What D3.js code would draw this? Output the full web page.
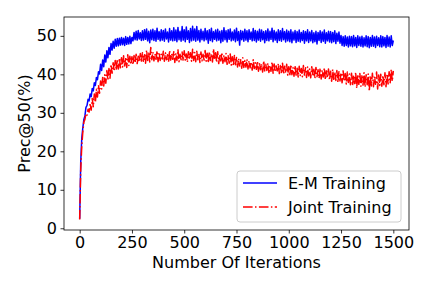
<!DOCTYPE html>
<html>
<head>
<meta charset="utf-8">
<script src="https://cdn.jsdelivr.net/npm/d3@7"></script>
<style>
  body { margin: 0; background: #fff; }
  text { font-family: "DejaVu Sans", sans-serif; }
</style>
</head>
<body>
<svg id="chart" width="432" height="288"></svg>
<script>
// one value every 5 iterations
var step = 5;

var emTraining = [
    2.5, 17.2, 23.4, 26.1, 28.3, 29.2, 31.4, 31.9, 33.5, 33.1,
    34.9, 34.2, 36.3, 35.7, 37.8, 37.1, 39.2, 38.6, 40.7, 40.1,
    42.6, 41.0, 43.7, 42.0, 45.0, 43.2, 46.1, 44.3, 47.0, 45.2,
    48.0, 46.3, 48.6, 46.8, 49.1, 47.3, 49.3, 47.4, 49.4, 47.6,
    49.6, 47.7, 49.4, 47.5, 49.8, 47.8, 49.6, 47.9, 49.9, 48.0,
    49.6, 48.7, 50.9, 49.0, 51.2, 48.9, 51.4, 49.2, 50.8, 48.8,
    51.3, 48.9, 51.6, 49.1, 51.8, 48.7, 51.2, 48.2, 51.5, 49.0,
    51.7, 48.8, 51.3, 48.6, 52.0, 49.1, 51.1, 48.7, 51.6, 48.9,
    51.4, 48.6, 51.8, 49.2, 51.0, 48.4, 51.9, 48.9, 51.3, 48.7,
    52.1, 48.8, 51.5, 48.5, 52.2, 49.0, 51.2, 48.6, 52.4, 48.9,
    51.6, 48.5, 52.3, 49.1, 51.3, 48.3, 51.9, 48.7, 52.5, 48.9,
    51.8, 48.6, 52.4, 48.9, 51.4, 48.4, 51.7, 49.0, 51.2, 48.7,
    51.9, 49.0, 51.3, 48.1, 51.6, 48.8, 52.0, 48.5, 51.1, 49.1,
    51.5, 48.7, 51.7, 48.9, 51.2, 48.2, 51.4, 48.6, 52.1, 49.0,
    51.3, 48.4, 51.6, 49.1, 51.8, 48.7, 51.0, 48.9, 51.5, 48.5,
    52.0, 48.8, 51.1, 47.6, 51.4, 49.0, 51.2, 48.6, 51.7, 48.9,
    51.3, 48.5, 51.6, 49.1, 51.0, 48.7, 51.9, 48.8, 51.4, 48.4,
    51.2, 48.9, 51.7, 48.6, 51.5, 49.0, 51.1, 48.2, 51.3, 48.8,
    51.8, 48.7, 51.2, 49.1, 52.0, 48.5, 51.4, 48.9, 51.0, 48.3,
    51.6, 48.8, 51.3, 48.6, 51.9, 49.0, 51.1, 48.4, 51.5, 48.7,
    51.2, 48.5, 51.6, 48.2, 51.0, 48.9, 51.4, 48.3, 51.1, 48.6,
    51.5, 48.4, 50.9, 48.8, 51.3, 48.1, 51.1, 48.7, 51.6, 48.3,
    51.0, 48.7, 51.4, 48.2, 50.8, 48.5, 51.2, 47.9, 50.9, 48.8,
    51.3, 48.3, 51.0, 48.6, 51.5, 48.1, 50.8, 48.7, 51.2, 48.4,
    51.1, 48.2, 50.9, 48.5, 51.3, 48.0, 50.7, 48.6, 51.0, 48.1,
    50.1, 47.5, 49.8, 47.3, 50.0, 47.5, 49.7, 47.1, 49.9, 47.4,
    49.8, 47.2, 50.1, 47.4, 49.6, 47.0, 50.0, 47.5, 49.7, 47.3,
    49.9, 47.1, 49.5, 47.4, 50.0, 47.2, 49.8, 46.9, 49.6, 47.3,
    50.1, 47.3, 49.7, 47.0, 49.9, 47.5, 49.5, 47.2, 50.0, 47.1,
    49.8, 47.4, 49.6, 47.0, 50.1, 47.3, 49.7, 47.1, 50.0, 47.5,
    48.8
];

var jointTraining = [
    2.3, 15.2, 21.4, 25.0, 27.6, 28.3, 29.8, 29.4, 30.9, 30.2,
    32.5, 30.7, 33.7, 31.6, 34.9, 32.7, 36.1, 34.1, 37.2, 35.1,
    38.3, 36.2, 39.2, 37.0, 39.9, 37.7, 41.0, 38.5, 41.5, 39.0,
    42.6, 40.3, 43.0, 40.8, 43.6, 41.1, 43.9, 41.4, 44.2, 41.7,
    44.3, 41.9, 44.8, 42.2, 44.5, 41.8, 45.1, 42.3, 44.7, 42.6,
    44.6, 42.5, 44.9, 43.0, 45.2, 42.8, 44.7, 43.3, 45.4, 43.1,
    45.6, 43.4, 45.1, 42.9, 46.3, 43.6, 45.5, 43.2, 47.0, 43.8,
    45.8, 43.5, 45.3, 43.9, 46.1, 43.3, 45.7, 43.6, 45.2, 44.0,
    46.0, 43.4, 45.6, 43.8, 45.1, 43.2, 46.2, 43.7, 45.4, 43.9,
    45.9, 43.1, 45.5, 43.6, 46.4, 43.3, 45.2, 43.8, 45.8, 43.5,
    46.1, 43.7, 45.3, 43.2, 45.9, 43.9, 45.6, 43.4, 46.5, 43.6,
    45.7, 43.3, 46.0, 43.8, 45.4, 43.1, 45.8, 43.5, 45.2, 43.7,
    46.2, 43.4, 45.5, 43.0, 45.9, 43.6, 45.3, 43.2, 46.6, 43.8,
    45.6, 43.1, 45.9, 42.8, 45.2, 43.5, 45.7, 42.9, 45.0, 43.3,
    45.4, 42.6, 44.8, 42.9, 45.3, 42.4, 44.6, 42.2, 44.9, 42.5,
    44.4, 41.9, 44.1, 42.2, 43.8, 41.6, 44.3, 41.8, 43.6, 41.9,
    43.9, 41.4, 43.5, 41.7, 43.2, 41.1, 43.8, 41.5, 43.0, 41.3,
    43.4, 40.8, 43.1, 41.2, 42.7, 40.6, 43.5, 40.9, 42.6, 41.0,
    42.9, 40.5, 42.4, 40.8, 43.2, 40.3, 42.7, 40.6, 42.2, 40.9,
    42.8, 40.2, 42.3, 40.5, 42.9, 40.1, 42.1, 40.4, 42.6, 39.8,
    42.0, 39.6, 42.5, 39.9, 41.8, 39.5, 42.2, 39.8, 41.6, 39.3,
    42.1, 39.7, 41.5, 39.4, 42.3, 39.8, 41.7, 39.2, 41.9, 39.6,
    41.4, 39.1, 42.0, 39.5, 41.3, 38.9, 41.8, 39.4, 41.2, 39.0,
    41.6, 38.8, 41.1, 39.3, 41.7, 38.6, 40.9, 39.1, 41.4, 38.5,
    40.8, 38.2, 41.3, 38.7, 40.6, 38.4, 41.0, 37.9, 40.7, 38.3,
    40.4, 37.8, 40.9, 38.2, 40.2, 37.5, 40.6, 37.9, 40.1, 37.3,
    40.3, 37.1, 39.8, 37.6, 40.5, 36.4, 39.9, 37.4, 40.2, 36.9,
    39.6, 37.2, 40.4, 36.7, 39.9, 37.3, 40.1, 35.6, 39.7, 37.0,
    40.3, 36.8, 39.5, 37.4, 40.6, 36.2, 39.8, 37.1, 40.0, 36.9,
    39.7, 37.3, 40.4, 36.8, 40.1, 37.5, 40.7, 37.8, 41.3, 38.2,
    40.9
];

var xTicks = [0, 250, 500, 750, 1000, 1250, 1500];
var yTicks = [0, 10, 20, 30, 40, 50];
var seriesNames = ["E-M Training", "Joint Training"];
var seriesColors = ["#0000ff", "#ff0000"];

var svg = d3.select("#chart"),
    plotLeft = 64, plotRight = 409, plotTop = 17, plotBottom = 230;

var x = d3.scaleLinear().domain([-75, 1575]).range([plotLeft, plotRight]);
var y = d3.scaleLinear().domain([-0.45, 54.9]).range([plotBottom, plotTop]);

var line = d3.line()
    .x(function (d, i) { return x(i * step); })
    .y(function (d) { return y(d); });

// series, blue first so red sits on top
svg.append("path")
    .datum(emTraining)
    .attr("fill", "none")
    .attr("stroke", seriesColors[0])
    .attr("stroke-width", 1.5)
    .attr("stroke-linejoin", "round")
    .attr("d", line);

svg.append("path")
    .datum(jointTraining)
    .attr("fill", "none")
    .attr("stroke", seriesColors[1])
    .attr("stroke-width", 1.5)
    .attr("stroke-dasharray", "9.6,2.4,1.5,2.4")
    .attr("stroke-linejoin", "round")
    .attr("d", line);

// axes
var xAxis = svg.append("g")
    .attr("transform", "translate(0," + plotBottom + ")")
    .call(d3.axisBottom(x).tickValues(xTicks).tickFormat(d3.format("d")).tickSize(3.5).tickPadding(3.5));

var yAxis = svg.append("g")
    .attr("transform", "translate(" + plotLeft + ",0)")
    .call(d3.axisLeft(y).tickValues(yTicks).tickFormat(d3.format("d")).tickSize(3.5).tickPadding(3.5));

[xAxis, yAxis].forEach(function (a) {
    a.attr("font-family", null).attr("font-size", null);
    a.select(".domain").remove();
    a.selectAll("line").attr("stroke", "#000").attr("stroke-width", 0.8);
    a.selectAll("text").style("font-size", "16px").attr("fill", "#000");
});

svg.append("rect")
    .attr("x", plotLeft).attr("y", plotTop)
    .attr("width", plotRight - plotLeft).attr("height", plotBottom - plotTop)
    .attr("fill", "none")
    .attr("stroke", "#000")
    .attr("stroke-width", 0.8);

svg.append("text")
    .attr("x", (plotLeft + plotRight) / 2)
    .attr("y", 268)
    .attr("text-anchor", "middle")
    .style("font-size", "16px")
    .text("Number Of Iterations");

svg.append("text")
    .attr("transform", "translate(30," + (plotTop + plotBottom) / 2 + ") rotate(-90)")
    .attr("text-anchor", "middle")
    .style("font-size", "16px")
    .text("Prec@50(%)");

// legend
var legend = svg.append("g");
legend.append("rect")
    .attr("x", 237).attr("y", 171)
    .attr("width", 164).attr("height", 51)
    .attr("rx", 3)
    .attr("fill", "#fff").attr("fill-opacity", 0.8)
    .attr("stroke", "#cccccc").attr("stroke-width", 1);

seriesNames.forEach(function (name, i) {
    var ly = 183 + i * 24;
    legend.append("line")
        .attr("x1", 243).attr("x2", 277)
        .attr("y1", ly).attr("y2", ly)
        .attr("stroke", seriesColors[i])
        .attr("stroke-width", 1.5)
        .attr("stroke-dasharray", i == 1 ? "9.6,2.4,1.5,2.4" : null);
    legend.append("text")
        .attr("x", 288)
        .attr("y", ly)
        .attr("dy", "0.36em")
        .style("font-size", "16px")
        .text(name);
});
</script>
</body>
</html>
